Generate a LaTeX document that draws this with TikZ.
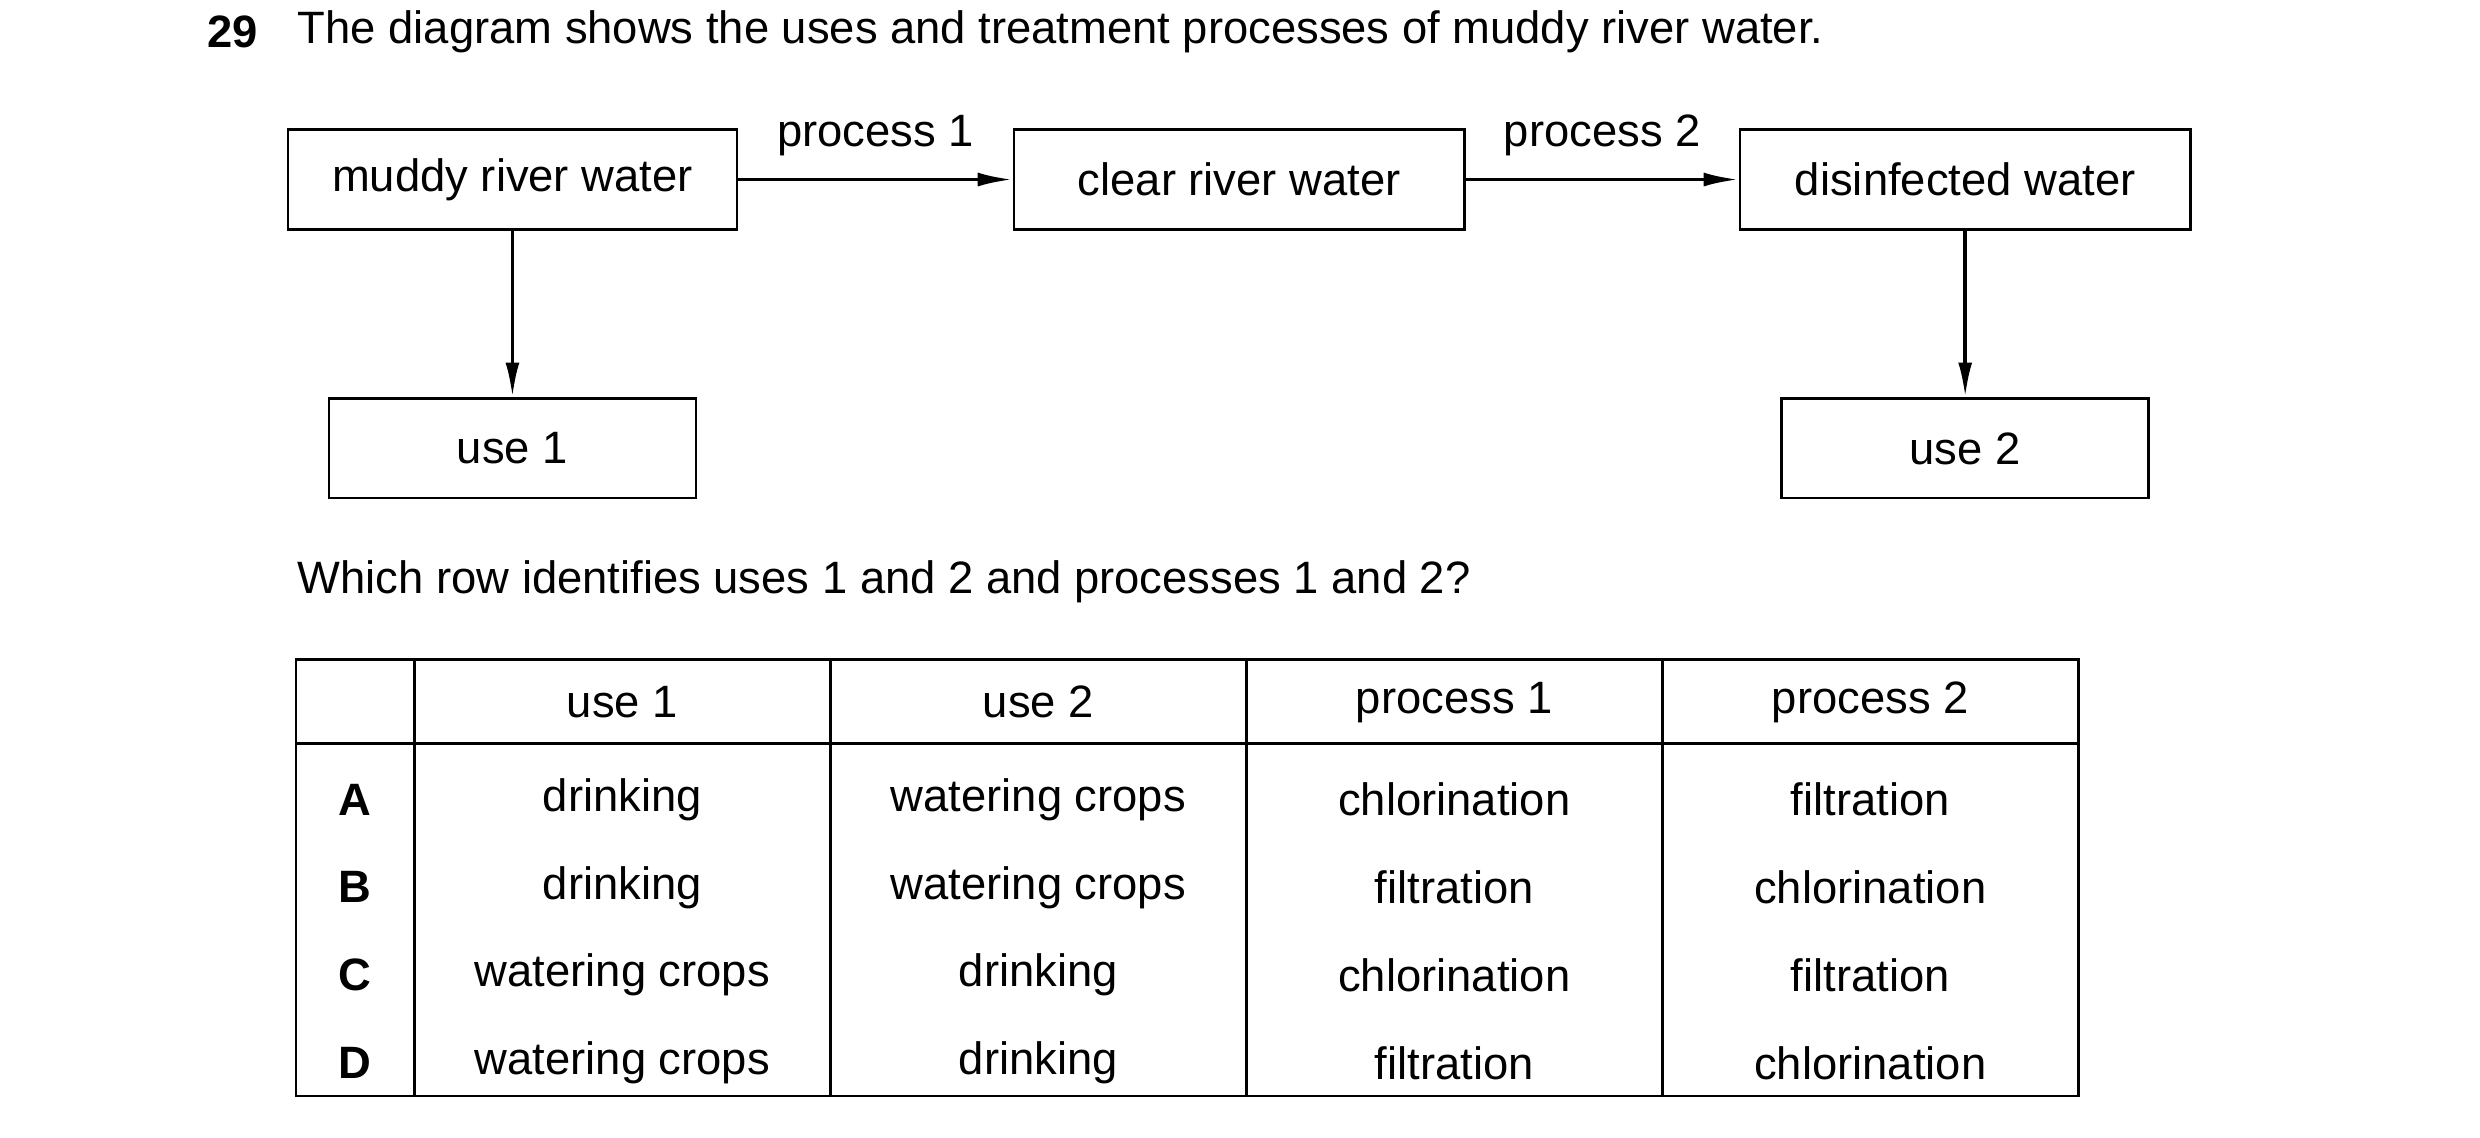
\documentclass[tikz,border=0pt]{standalone}
\usepackage{fontspec}
\setmainfont{Liberation Sans}
\usetikzlibrary{positioning,arrows.meta}
\tikzset{box/.style={draw,line width=1.1pt,minimum height=1.575cm,inner sep=0pt}}
\tikzset{flow/.style={-{Latex[length=0.55cm,width=0.22cm]},line width=1.6pt}}
\tikzset{txt/.style={inner sep=0pt,font=\fontsize{20.4}{24}\selectfont}}
\begin{document}
\begin{tikzpicture}[x=0.025cm,y=-0.025cm]
    \useasboundingbox (0,0) rectangle (1568,719);
    \fontsize{20.4}{24}\selectfont

    % question
    \node[txt,anchor=west,font=\fontsize{20.4}{24}\selectfont\bfseries] (qnum) at (131,20) {29};
    \node[txt,anchor=west] (qtext) at (188,20) {The diagram shows the uses and treatment processes of muddy river water.};

    % flow chart
    \node[box,minimum width=7.1cm,txt] (muddy) at (324,113.5) {muddy river water};
    \node[box,minimum width=7.125cm,txt] (clear) at (783.5,113.5) {clear river water};
    \node[box,minimum width=7.125cm,txt] (disinf) at (1242.5,113.5) {disinfected water};
    \node[box,minimum width=5.8cm,txt] (use1) at (324,283.5) {use 1};
    \node[box,minimum width=5.8cm,txt] (use2) at (1242.5,283.5) {use 2};

    \draw[flow] (muddy) -- node[txt,above=0.35cm] {process 1} (clear);
    \draw[flow] (clear) -- node[txt,above=0.35cm] {process 2} (disinf);
    \draw[flow] (muddy) -- (use1);
    \draw[flow] (disinf) -- (use2);

    \node[txt,anchor=west] (which) at (188,368) {Which row identifies uses 1 and 2 and processes 1 and 2?};

    % table
    \draw[line width=1.1pt] (187,417) rectangle (1314,693);
    \draw[line width=1.1pt] (187,470) -- (1314,470);
    \foreach \x in {262,525,788,1051}
        \draw[line width=1.1pt] (\x,417) -- (\x,693);
    \foreach \h [count=\hi] in {use 1,use 2,process 1,process 2}
        \node[txt] (head\hi) at (262+263*\hi-131.5,444) {\h};
    \foreach \r/\a/\b/\c/\d [count=\ri] in {A/drinking/watering crops/chlorination/filtration,
        B/drinking/watering crops/filtration/chlorination,
        C/watering crops/drinking/chlorination/filtration,
        D/watering crops/drinking/filtration/chlorination}{
        \node[txt,font=\fontsize{20.4}{24}\selectfont\bfseries] (row\ri) at (224.5,450+55.5*\ri) {\r};
        \node[txt] (a\ri) at (393.5,450+55.5*\ri) {\a};
        \node[txt] (b\ri) at (656.5,450+55.5*\ri) {\b};
        \node[txt] (c\ri) at (919.5,450+55.5*\ri) {\c};
        \node[txt] (d\ri) at (1182.5,450+55.5*\ri) {\d};
    }
\end{tikzpicture}
\end{document}
